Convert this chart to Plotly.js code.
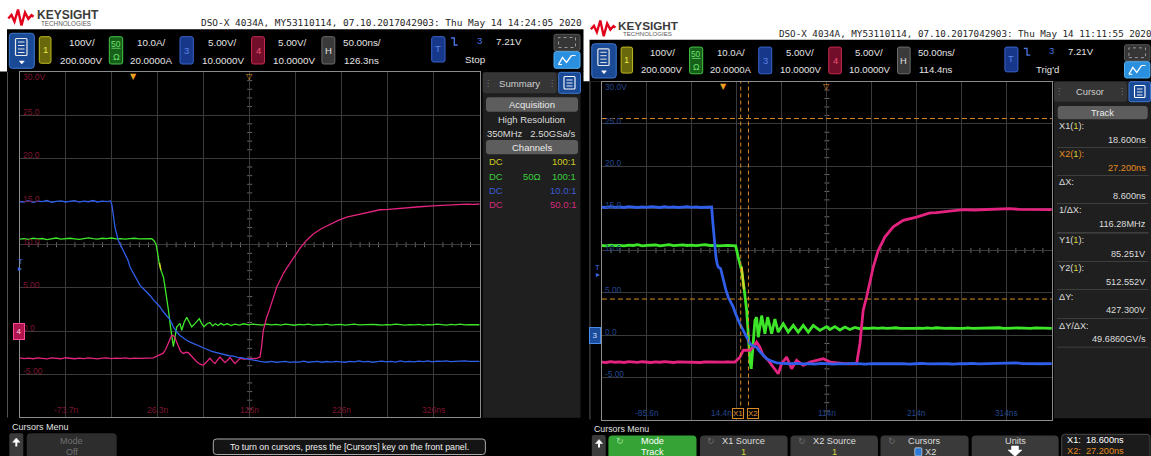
<!DOCTYPE html>
<html><head><meta charset="utf-8">
<script src="https://cdn.plot.ly/plotly-3.0.1.min.js"></script>
<style>html,body{margin:0;padding:0;background:#fff;overflow:hidden}#chart{width:1151px;height:456px}</style>
</head><body><div id="chart"></div>
<script>
// ================= DATA =================
// Screen grid: 10 div x 8 div, values below are in grid volts (ch3/ch4 scale: 5 V/div, offset 10 V)
const voltTicks  = [30, 25, 20, 15, 10, 5, 0, -5];
const voltLabels = ['30.0V', '25.0', '20.0', '15.0', '10.0', '5.00', '0.0', '-5.00'];

// Capture A (Thu May 14 14:24:05 2020) - time in ns
const capA_range = [-123.7, 376.3];
const capA_delay = 126.3;
const capA_timeTicks  = [-73.7, 26.3, 126.3, 226.3, 326.3];
const capA_timeLabels = ['-73.7n', '26.3n', '126n', '226n', '326ns'];
const capA_ch3 = [[-123.7,15.0],[-119,14.95],[-114,15.1],[-109,14.9],[-104,15.05],[-99,15.0],[-94,15.12],[-89,14.92],[-84,15.03],[-79,15.08],[-74,14.95],[-69,15.0],[-64,15.1],[-59,14.93],[-54,15.05],[-49,14.98],[-44,15.12],[-39,14.95],[-34,15.05],[-29,15.0],[-25,15.08],
 [-23.5,14.6],[-22,13.3],[-20.1,12.0],[-16.5,10.5],[-12.8,9.7],[-9.2,8.8],[-6,8.2],[-3.7,7.4],[-1,6.9],[1.9,6.3],[4.5,5.9],[7.1,5.3],[10,5.0],[12.8,4.7],[15.5,4.4],[18.2,4.1],[21,3.7],[23.7,3.4],[26,3.1],[28.8,2.8],[32,2.3],[36.1,1.8],[39.7,1.3],[43.3,0.5],[47,-0.1],[50.5,-0.5],[54,-0.8],[57.8,-1.05],[61,-1.25],[65,-1.45],[70,-1.7],[75,-1.95],[79.6,-2.1],[85,-2.35],[90,-2.5],[94,-2.6],[99,-2.7],[104,-2.85],[108.5,-2.9],[113,-3.05],[118,-3.1],[122,-3.2],[126.6,-3.3],[132,-3.4],[137.5,-3.5],[141,-3.55],[144.8,-3.6],
 [150,-3.5],[155,-3.6],[160,-3.55],[165,-3.5],[170,-3.62],[175,-3.55],[180,-3.58],[185,-3.48],[190,-3.6],[195,-3.55],[200,-3.5],[205,-3.6],[210,-3.52],[215,-3.58],[220,-3.5],[225,-3.55],[230,-3.6],[235,-3.5],[240,-3.55],[245,-3.45],[250,-3.55],[255,-3.5],[260,-3.6],[265,-3.52],[270,-3.48],[275,-3.55],[280,-3.5],[285,-3.58],[290,-3.45],[295,-3.55],[300,-3.5],[305,-3.55],[310,-3.48],[315,-3.52],[320,-3.45],[325,-3.55],[330,-3.48],[335,-3.5],[340,-3.45],[345,-3.52],[350,-3.48],[355,-3.5],[360,-3.45],[365,-3.5],[370,-3.48],[376.3,-3.5]];
const capA_ch2 = [[-123.7,10.65],[-119,10.7],[-114,10.62],[-109,10.75],[-104,10.68],[-99,10.72],[-94,10.6],[-89,10.7],[-84,10.78],[-79,10.65],[-74,10.7],[-69,10.75],[-64,10.68],[-59,10.62],[-54,10.72],[-49,10.8],[-44,10.7],[-39,10.65],[-34,10.75],[-29,10.7],[-24,10.78],[-19,10.68],[-14,10.72],[-9,10.65],[-4,10.7],[1,10.75],[6,10.68],[11,10.7],[16,10.72],[19.8,10.7],
 [22,10.5],[24.4,10.1],[26,9.2],[28,7.8],[30,7.0],[32.4,6.3],[34,5.3],[36.1,4.0],[38,2.4],[39.7,0.9],[41.5,-0.7],[43.3,-1.8],[45.1,-0.7],[47,0.5],[48.7,0.7],[50.5,0.9],[52.4,0.1],[55,1.0],[57.8,1.6],[60.5,1.0],[63.3,0.5],[67,0.9],[71.5,1.45],[74,0.9],[76.6,0.5],[80,0.85],[83,1.0],[86,0.6],[89,0.85],[92,0.65],[95,0.9],[98,0.7],[102,0.85],[106,0.65],[110,0.8],[115,0.7],[120,0.85],[125,0.72],[130,0.8],
 [135,0.75],[140,0.7],[145,0.82],[150,0.72],[155,0.78],[160,0.7],[165,0.8],[170,0.74],[175,0.68],[180,0.78],[185,0.72],[190,0.8],[195,0.7],[200,0.76],[205,0.72],[210,0.8],[215,0.7],[220,0.75],[225,0.78],[230,0.7],[235,0.74],[240,0.8],[245,0.72],[250,0.75],[255,0.7],[260,0.78],[265,0.74],[270,0.7],[275,0.76],[280,0.72],[285,0.8],[290,0.74],[295,0.7],[300,0.75],[305,0.72],[310,0.78],[315,0.7],[320,0.76],[325,0.72],[330,0.8],[335,0.74],[340,0.7],[345,0.78],[350,0.73],[355,0.8],[360,0.72],[365,0.76],[370,0.78],[376.3,0.74]];
const capA_ch4 = [[-123.7,-3.1],[-119,-3.18],[-114,-3.12],[-109,-3.2],[-104,-3.1],[-99,-3.15],[-94,-3.22],[-89,-3.1],[-84,-3.16],[-79,-3.2],[-74,-3.08],[-69,-3.15],[-64,-3.2],[-59,-3.12],[-54,-3.18],[-49,-3.1],[-44,-3.15],[-39,-3.22],[-34,-3.12],[-29,-3.1],[-24,-3.18],[-19,-3.12],[-14,-3.15],[-9,-3.1],[-4,-3.18],[1,-3.12],[6,-3.15],[11,-3.1],[16,-3.12],[21.5,-3.1],
 [25,-2.95],[28,-2.8],[32.4,-2.55],[35,-2.1],[37.8,-1.45],[40,-0.8],[41.5,-0.5],[43,-0.5],[45.1,-0.75],[47,-1.3],[48.7,-1.8],[51,-2.3],[54.1,-2.6],[57,-2.45],[59.6,-2.5],[63,-2.9],[66,-3.3],[68.7,-3.55],[72,-3.8],[75.9,-3.95],[79,-3.6],[83.1,-3.15],[86,-3.5],[88.6,-3.75],[91,-3.4],[94,-3.0],[97,-3.35],[99.5,-3.65],[102,-3.4],[104.9,-3.05],[107.5,-3.4],[110.4,-3.75],[113,-3.45],[115.8,-3.15],[120,-3.25],[125,-3.2],[129,-3.15],[133.9,-3.15],[137.5,-3.0],[139,-2.0],[141.1,0.1],[143,1.0],[144.8,1.6],[147.5,2.4],[150.2,3.2],[153,4.2],[155.7,5.1],[159,5.9],[162.8,6.65],[166,7.2],[170.1,7.9],[175,8.7],[181,9.6],[188,10.5],[195.4,11.25],[204,11.85],[213.6,12.4],[222,12.8],[231.7,13.2],[240,13.4],[249.8,13.65],[258,13.85],[267.9,14.05],[277,14.1],[286.1,14.2],[298,14.3],[311.4,14.4],[325,14.5],[340.4,14.6],[350,14.62],[362.2,14.7],[370,14.68],[376.3,14.72]];
const capA_ch1 = [[28.4,7.9],[29.0,7.5],[29.6,7.1]];

// Capture B (Thu May 14 11:11:55 2020) - time in ns
const capB_range = [-135.6, 364.4];
const capB_delay = 114.4;
const capB_timeTicks  = [-85.6, 14.4, 114.4, 214.4, 314.4];
const capB_timeLabels = ['-85.6n', '14.4n', '114n', '214n', '314ns'];
const capB_ch3 = [[-135.6,15.15],[-131,15.1],[-126,15.2],[-121,15.12],[-116,15.18],[-111,15.1],[-106,15.2],[-101,15.15],[-96,15.1],[-91,15.18],[-86,15.12],[-81,15.2],[-76,15.15],[-71,15.1],[-66,15.2],[-61,15.12],[-56,15.18],[-51,15.1],[-46,15.15],[-41,15.2],[-36,15.12],[-31,15.18],[-26,15.1],[-21,15.15],[-16,15.2],[-13.7,15.15],
 [-12.5,13.5],[-11.2,11.6],[-10,10.3],[-8.9,9.2],[-7.5,8.4],[-6.4,8.05],[-5,7.95],[-3.7,7.85],[-2.2,7.2],[-0.8,6.5],[2,5.4],[4.7,4.5],[7.5,3.9],[10.3,3.3],[13,2.5],[15.8,1.7],[18.6,1.1],[21.4,0.55],[24,0.0],[26.9,-0.65],[28.8,-1.0],[30.7,-1.2],[33.5,-1.35],[36.3,-1.45],[39,-1.85],[41.9,-2.2],[44.5,-2.5],[47.4,-2.8],[52,-3.05],[58.5,-3.3],[65,-3.35],[73.3,-3.4],
 [80,-3.35],[87,-3.42],[94,-3.38],[101,-3.45],[108,-3.35],[115,-3.4],[122,-3.45],[129,-3.38],[136,-3.42],[143,-3.35],[150,-3.4],[157,-3.45],[164,-3.38],[171,-3.4],[178,-3.35],[185,-3.42],[192,-3.4],[199,-3.38],[206,-3.45],[213,-3.4],[220,-3.35],[227,-3.42],[234,-3.4],[241,-3.38],[248,-3.4],[255,-3.45],[262,-3.38],[269,-3.4],[276,-3.35],[283,-3.42],[290,-3.4],[297,-3.38],[304,-3.42],[311,-3.36],[318,-3.4],[325,-3.3],[332,-3.38],[339,-3.4],[346,-3.35],[353,-3.4],[364.4,-3.38]];
const capB_ch2 = [[-135.6,10.6],[-131,10.55],[-126,10.65],[-121,10.58],[-116,10.62],[-111,10.55],[-106,10.65],[-101,10.6],[-96,10.7],[-91,10.55],[-86,10.62],[-81,10.6],[-76,10.66],[-71,10.55],[-66,10.62],[-61,10.7],[-56,10.58],[-51,10.62],[-46,10.68],[-41,10.6],[-36,10.65],[-31,10.58],[-26,10.62],[-21,10.7],[-16,10.6],[-11,10.62],[-6,10.55],[-1,10.6],[4,10.62],[9,10.58],[13,10.55],
 [15.8,9.24],[19.6,7.66],[22.2,5.68],[25.2,2.92],[27,0.16],[28.8,-3.0],[30.3,-4.0],[32.5,-0.25],[34.4,1.73],[36.3,2.1],[38.1,-0.25],[41.9,2.3],[45.5,0.16],[48.5,2.12],[53,0.16],[56.6,1.9],[60.3,0.35],[65.9,1.34],[71.4,0.35],[77,1.14],[82.5,0.35],[88.1,1.14],[93.7,0.35],[99.2,1.14],[106.6,0.55],[114.1,1.0],[117.7,0.65],[123.3,1.0],[128.8,0.6],[134.4,0.95],[139.9,0.65],[145.5,0.9],[151.1,0.75],
 [156,0.82],[161,0.78],[166,0.85],[171,0.8],[176,0.84],[181,0.78],[186,0.82],[191,0.86],[196,0.8],[201,0.78],[206,0.84],[211,0.8],[216,0.82],[221,0.78],[226,0.84],[231,0.8],[236,0.86],[241,0.8],[246,0.78],[251,0.82],[256,0.85],[261,0.8],[266,0.78],[271,0.84],[276,0.8],[281,0.82],[286,0.78],[291,0.84],[296,0.8],[301,0.82],[306,0.86],[311,0.8],[316,0.78],[321,0.82],[326,0.84],[331,0.8],[336,0.82],[341,0.78],[346,0.84],[351,0.8],[356,0.82],[364.4,0.8]];
const capB_ch4 = [[-135.6,-3.2],[-131,-3.25],[-126,-3.15],[-121,-3.22],[-116,-3.18],[-111,-3.25],[-106,-3.15],[-101,-3.2],[-96,-3.24],[-91,-3.16],[-86,-3.2],[-81,-3.25],[-76,-3.18],[-71,-3.22],[-66,-3.15],[-61,-3.2],[-56,-3.25],[-51,-3.18],[-46,-3.2],[-41,-3.15],[-36,-3.22],[-31,-3.2],[-26,-3.25],[-21,-3.18],[-16,-3.2],[-11,-3.15],[-6,-3.22],[-1,-3.2],[4,-3.18],[8,-3.22],[12.2,-3.2],
 [17.7,-2.62],[21.4,-1.82],[25.2,-1.8],[28.8,-1.82],[32.5,-1.43],[36.3,-0.84],[39.9,-1.43],[43.6,-2.4],[49.2,-3.0],[54.7,-3.8],[60.3,-4.58],[64.1,-3.4],[69.6,-2.6],[75.2,-4.0],[80.7,-3.0],[88.1,-3.6],[95.5,-3.2],[103,-3.0],[110.3,-2.8],[118,-3.2],[125.2,-3.3],[132,-3.35],[140,-3.4],[147.4,-3.4],
 [151.1,-1.03],[154.7,2.92],[158.5,4.5],[162.1,6.08],[165.9,8.05],[171.4,10.0],[178.8,11.6],[188.1,12.8],[199.2,13.58],[214.1,13.97],[228.9,14.45],[236,14.5],[243.6,14.6],[255,14.75],[265.8,14.84],[278,14.8],[291.9,14.84],[305,14.9],[317.7,14.97],[328,14.88],[339.9,14.84],[352,14.86],[364.4,14.84]];
const capB_ch1 = [[19.6,8.1],[20.4,7.3],[21.3,6.4],[22.2,5.4]];

// Cursor settings (capture B, source ch1: 100 V/div, offset 200 V)
const cursorX = [18.6, 27.2];          // ns
const cursorY = [85.251, 512.552];     // V on ch1
const ch1Scale = 100, ch1Offset = 200; // V/div, V
const trigTime = 0, trigLevel = 7.21;  // ns, V (ch3)
// Readout panel text, as shown by the scope
const readoutLabels = ['X1(1):', 'X2(1):', 'ΔX:', '1/ΔX:', 'Y1(1):', 'Y2(1):', 'ΔY:', 'ΔY/ΔX:'];
const readoutValues = ['18.600ns', '27.200ns', '8.600ns', '116.28MHz', '85.251V', '512.552V', '427.300V', '49.6860GV/s'];

// ================= HELPERS =================
const W=1151,H=456;
const FONT='"Liberation Sans", Arial, sans-serif';
const MONO='"DejaVu Sans Mono", "Liberation Mono", monospace';
const DJ='"DejaVu Sans", sans-serif';
const TXT='#e4e4e4';
const shapes=[], ann=[];
const I={ox:0,oy:0,s:1};
const trA={ox:0,oy:0,s:1};
const trB={ox:582.7,oy:11.2,s:0.978};
function T(t,x,y){return [t.ox+t.s*x,t.oy+t.s*y];}
const X=v=>+(v/W).toFixed(6), Y=v=>+(1-v/H).toFixed(6);
function rect(t,x0,y0,x1,y1,fill,line,lw,dash){
  const a=T(t,x0,y0),b=T(t,x1,y1);
  shapes.push({type:'rect',xref:'paper',yref:'paper',x0:X(a[0]),x1:X(b[0]),y0:Y(b[1]),y1:Y(a[1]),
    fillcolor:fill||'rgba(0,0,0,0)',line:{color:line||'rgba(0,0,0,0)',width:line?(lw||1):0,dash:dash||'solid'},layer:'below'});
}
function rr(t,x0,y0,x1,y1,r,fill,line,lw){
  const a=T(t,x0,y0),b=T(t,x1,y1),R=r*t.s;
  const l=a[0],tp=a[1],rt=b[0],bt=b[1];
  const p='M'+X(l+R)+','+Y(tp)+' L'+X(rt-R)+','+Y(tp)+' Q'+X(rt)+','+Y(tp)+' '+X(rt)+','+Y(tp+R)+
    ' L'+X(rt)+','+Y(bt-R)+' Q'+X(rt)+','+Y(bt)+' '+X(rt-R)+','+Y(bt)+' L'+X(l+R)+','+Y(bt)+
    ' Q'+X(l)+','+Y(bt)+' '+X(l)+','+Y(bt-R)+' L'+X(l)+','+Y(tp+R)+' Q'+X(l)+','+Y(tp)+' '+X(l+R)+','+Y(tp)+' Z';
  shapes.push({type:'path',xref:'paper',yref:'paper',path:p,fillcolor:fill||'rgba(0,0,0,0)',
    line:{color:line||'rgba(0,0,0,0)',width:line?(lw||1):0},layer:'below'});
}
function pl(t,pts,color,lw,closed,fill){
  let p=pts.map((q,i)=>{const a=T(t,q[0],q[1]);return (i?'L':'M')+X(a[0])+','+Y(a[1]);}).join(' ');
  if(closed)p+=' Z';
  shapes.push({type:'path',xref:'paper',yref:'paper',path:p,fillcolor:fill||'rgba(0,0,0,0)',
    line:{color:color,width:lw*t.s},layer:'below'});
}
function txt(t,x,y,s,size,color,anchor,fam,extra){
  const a=T(t,x,y);
  ann.push(Object.assign({xref:'paper',yref:'paper',x:X(a[0]),y:Y(a[1]),text:s,showarrow:false,
    xanchor:anchor||'center',yanchor:'middle',font:{family:fam||FONT,size:+(size*t.s).toFixed(2),color:color}},extra||{}));
}

// ================= SCOPE CHROME =================
function chrome(t,cfg){
  rect(t,0,71.5,583.5,480,'#000');
  rect(t,7,29.3,583.5,72,'#000');
  rect(t,7,72,7.8,417.5,'#6a6a6a');
  // logo
  pl(t,[[8.3,18.5],[11.5,15],[14.5,21.5],[18,9.5],[21.5,25.5],[25,12.5],[28.3,18.8],[31.5,15.2],[33.5,16.8]],'#e2001a',2.4);
  txt(t,34.5,14.6,'<b>KEYSIGHT</b>',12,'#3c3c3c','left');
  txt(t,39,23,'TECHNOLOGIES',6.3,'#5a5a5a','left');
  txt(t,198.7,22.6,cfg.header,9.45,'#1e1e1e','left',MONO);
  // toolbar
  rr(t,9.3,33.3,34.3,68.3,3,'#1a4a96','#3f78d0',1);
  rr(t,15.5,38.5,27,55.5,1,null,'#e8e8e8',1.2);
  [42,45.5,49,52.5].forEach(y=>pl(t,[[18,y],[24.5,y]],'#e8e8e8',1));
  pl(t,[[19.3,61],[24.3,61],[21.8,64]],'#ffffff',0.5,true,'#ffffff');
  rr(t,39.3,36.7,51,63.3,2,'#6a680c','#bdbb22',1); txt(t,45.2,50,'1',9.5,'#e8e640');
  txt(t,82,42.7,'100V/',9.8,TXT); txt(t,81.3,60,'200.000V',9.8,TXT);
  rr(t,109.3,36.7,122.7,64,2,'#17601a','#44c444',1); txt(t,116,43.5,'50',8.5,'#6ae06a'); pl(t,[[111.5,48.3],[120.5,48.3]],'#6ae06a',0.8); txt(t,116,57,'Ω',9,'#6ae06a');
  txt(t,152,42.7,'10.0A/',9.8,TXT); txt(t,151.3,60,'20.0000A',9.8,TXT);
  rr(t,180,36.7,193.3,64,2,'#17388a','#3a64cc',1); txt(t,186.6,50.5,'3',9.5,'#5a82e8');
  txt(t,222,42.7,'5.00V/',9.8,TXT); txt(t,223,60,'10.0000V',9.8,TXT);
  rr(t,251.6,36.7,264.5,64,2,'#730e2a','#c82a4e',1); txt(t,258,50.5,'4',9.5,'#ea5474');
  txt(t,292.5,42.7,'5.00V/',9.8,TXT); txt(t,293.5,60,'10.0000V',9.8,TXT);
  rr(t,321.9,36.7,334.8,64,2,'#3a3a3a','#6c6c6c',1); txt(t,328.3,50.5,'H',9.5,'#e0e0e0');
  txt(t,341,42.7,'50.00ns/',9.8,TXT,'left'); txt(t,342,60,cfg.delayText,9.8,TXT,'left');
  rr(t,431.7,36.7,445,62,2,'#17388a','#3a64cc',1); txt(t,438.3,49,'T',9.5,'#5a82e8');
  pl(t,[[451,38],[454.3,38],[454.3,45],[457.6,45]],'#4a78e8',1.3);
  txt(t,479.3,41,'3',9.5,'#4a78e8'); txt(t,509,41.5,'7.21V',9.8,TXT); txt(t,475.5,59.3,cfg.state,9.8,TXT);
  rr(t,554,34.3,580,51,2,'#363636','#565656',1); rect(t,558.5,37.5,575.5,47.5,null,'#9a9a9a',1,'dot');
  rr(t,554,51.7,580,68.3,2,'#2b8fe0','#56b0f0',1);
  pl(t,[[558.5,64.5],[562.5,57.5],[566.5,62.5],[571.5,55.5]],'#ffffff',1.3);
  pl(t,[[571.5,55.5],[575.5,55.5]],'#ffffff',1.1); pl(t,[[558.5,64.5],[562,64.5]],'#ffffff',1.1);
  // bottom menu
  txt(t,10,426.7,'Cursors Menu',9,'#e0e0e0','left');
  rr(t,9.3,433.3,23.3,480,2,'#3b3b3b');
  pl(t,[[16.3,438],[12.6,442.3],[20,442.3]],'#ffffff',0.5,true,'#ffffff'); rect(t,15.3,442,17.3,446.5,'#ffffff');
}

function summaryPanel(t){
  rect(t,482.7,72.3,580.5,417.7,'#1f1f1f');
  rr(t,482.7,72.3,556.7,93.3,3,'#353535');
  txt(t,519.7,83,'Summary',9.6,'#cfcfcf'); txt(t,488,83,'⋮',8,'#777','center',DJ); txt(t,552,83,'⋮',8,'#777','center',DJ);
  rr(t,558.7,72.3,580.5,93.3,2,'#1a4a96','#3f78d0',1);
  rr(t,564,76.5,575,89,1,null,'#ffffff',1.1);
  [80,83,86].forEach(y=>pl(t,[[566.5,y],[572.5,y]],'#ffffff',0.9));
  rr(t,486,97.3,578,111.7,3,'#5d5d5d'); txt(t,532,104.5,'Acquisition',9.5,'#ececec');
  txt(t,531.5,119,'High Resolution',9.5,'#dcdcdc');
  txt(t,531.5,133,'350MHz   2.50GSa/s',9.5,'#dcdcdc');
  rr(t,486,140,578,154.3,3,'#5d5d5d'); txt(t,532,147.2,'Channels',9.5,'#ececec');
  const rows=[['#cfcb22','100:1',''],['#3ccf3c','100:1','50Ω'],['#3c5cd6','10.0:1',''],['#d42a7c','50.0:1','']];
  const ys=[161.8,176.7,190.8,205];
  rows.forEach((r,i)=>{txt(t,486.5,ys[i],'DC',9.5,r[0],'left'); txt(t,577.5,ys[i],r[1],9.5,r[0],'right'); if(r[2])txt(t,532,ys[i],r[2],9.5,r[0]);});
  rr(t,26.7,433.3,116.7,480,4,'#2d2d2d');
  txt(t,71.7,440.7,'Mode',9,'#707070'); txt(t,71.7,451.5,'Off',9,'#707070');
  rr(t,213.3,439,485.4,454.5,3,'#141414','#a8a8a8',1);
  txt(t,349.3,446.9,'To turn on cursors, press the [Cursors] key on the front panel.',8.8,'#f0f0f0');
}

function cursorPanel(){
  const t=I;
  rect(t,1054,81.7,1151,418.3,'#1f1f1f');
  rr(t,1054,81.7,1127,101.7,3,'#353535');
  txt(t,1090.5,91.7,'Cursor',9.3,'#cfcfcf'); txt(t,1059,91.7,'⋮',8,'#777','center',DJ); txt(t,1122,91.7,'⋮',8,'#777','center',DJ);
  rr(t,1129,81.7,1150.5,101.7,2,'#1a4a96','#3f78d0',1);
  rr(t,1134.5,85.5,1145,97.5,1,null,'#ffffff',1.1);
  [89,92,95].forEach(y=>pl(t,[[1137,y],[1142.5,y]],'#ffffff',0.9));
  rr(t,1057.7,106,1147.7,119.3,3,'#5d5d5d'); txt(t,1102.7,112.7,'Track',9.3,'#ececec');
  const ly=[126,154.3,182.3,210,240,268.3,296.7,326], vy=[140,168.3,196,224.3,254,282.3,310,339.3], sy=[147.3,175.3,203.3,232.3,261,289.3,318.3,346.7];
  readoutLabels.forEach((lab,i)=>{
    const c = i===1 ? '#e48c22' : '#dcdcdc';
    const html = lab.replace('(1)','(<span style="color:#d8d43a">1</span>)');
    txt(t,1057.5,ly[i],html,9.2,c,'left');
    txt(t,1148,vy[i],readoutValues[i],9.2,c,'right');
    rect(t,1057,sy[i],1148.5,sy[i]+(i===3?1.3:0.8),'#4a4a4a');
  });
  // bottom softkeys
  const by=435.5;
  rr(t,592.7,by,605.5,480,2,'#3b3b3b');
  pl(t,[[599,439.5],[595.5,443.5],[602.5,443.5]],'#ffffff',0.5,true,'#ffffff'); rect(t,598,443.3,600,447.5,'#ffffff');
  rr(t,608.4,by,696.5,480,4,'#35a335'); txt(t,620,440.5,'↻',9,'#9ee09e','center',DJ);
  txt(t,652.5,440.5,'Mode',9.2,'#ffffff'); txt(t,652.5,452,'Track',9.2,'#ffffff');
  const keys=[[700,787.6,'X1 Source','1','#d8d43a'],[790.5,877.9,'X2 Source','1','#d8d43a'],[880.5,968.6,'Cursors','X2','#dcdcdc'],[971.7,1058.6,'Units','','']];
  keys.forEach((k,i)=>{
    rr(t,k[0],by,k[1],480,4,'#3a3a3a');
    if(i<3) txt(t,k[0]+11.5,440.5,'↻',9,'#6a6a6a','center',DJ);
    const c=(k[0]+k[1])/2;
    txt(t,c,440.5,k[2],9.2,'#dcdcdc');
    if(i===2){ rr(t,914.8,447.8,921.8,456,1,'#2a7ad8','#cccccc',0.8); txt(t,930.5,451.5,k[3],9.2,k[4]); }
    else if(k[3]) txt(t,c,452,k[3],9.2,k[4]);
  });
  pl(t,[[1011.5,446],[1018.5,446],[1018.5,450],[1022,450],[1015,456.5],[1008,450],[1011.5,450]],'#ffffff',0.5,true,'#ffffff');
  rr(t,1061.7,434.3,1150,480,3,'#1b1b1b','#4a4a4a',1);
  txt(t,1065,440,'X1:  '+readoutValues[0],9.2,'#ffffff','left');
  txt(t,1065,451,'X2:  '+readoutValues[1],9.2,'#e48c22','left');
}

chrome(trA,{header:'DSO-X 4034A, MY53110114, 07.10.2017042903: Thu May 14 14:24:05 2020',delayText:capA_delay.toFixed(1)+'ns',state:'Stop'});
summaryPanel(trA);
chrome(trB,{header:'DSO-X 4034A, MY53110114, 07.10.2017042903: Thu May 14 11:11:55 2020',delayText:capB_delay.toFixed(1)+'ns',state:"Trig'd"});
cursorPanel();

// ================= PLOT AREAS =================
function plotArea(t){const a=T(t,19.7,72),b=T(t,479.7,417.5);return {x:[X(a[0]),X(b[0])],y:[Y(b[1]),Y(a[1])]};}
const dA=plotArea(trA), dB=plotArea(trB);
function axisX(dom,range,anchor){return {domain:dom,range:range,tick0:range[0],dtick:50,showgrid:true,gridcolor:'#3a3a3a',gridwidth:1,
  zeroline:false,showticklabels:false,ticks:'',showline:true,mirror:true,linecolor:'#8c8c8c',linewidth:1,fixedrange:true,anchor:anchor};}
function axisY(dom,anchor){return {domain:dom,range:[-10,30],tick0:-10,dtick:5,showgrid:true,gridcolor:'#3a3a3a',gridwidth:1,
  zeroline:false,showticklabels:false,ticks:'',showline:true,mirror:true,linecolor:'#8c8c8c',linewidth:1,fixedrange:true,anchor:anchor};}

function decorate(xa,ya,range,delay,tTicks,tLabels,labColor,t,gnd,avoid){
  const xd=xa+' domain', yd=ya+' domain';
  for(let k=1;k<50;k++){const tt=range[0]+k*10; if(k%5===0)continue;
    shapes.push({type:'line',xref:xa,yref:ya,x0:tt,x1:tt,ysizemode:'pixel',yanchor:10,y0:-2.5,y1:2.5,line:{color:'#6a6a6a',width:1},layer:'below'});}
  for(let v=-9;v<30;v++){ if(v%5===0)continue;
    shapes.push({type:'line',xref:xa,yref:ya,y0:v,y1:v,xsizemode:'pixel',xanchor:delay,x0:-2.5,x1:2.5,line:{color:'#6a6a6a',width:1},layer:'below'});}
  tTicks.forEach((v,i)=>{
    // a time label sitting under the cursor tags is pushed left so both stay readable
    const near = avoid && Math.abs(v-avoid)<15;
    ann.push({xref:xa,yref:yd,x:v,y:0,yanchor:'bottom',xanchor:near?'right':'center',xshift:near?-3:0,text:tLabels[i],showarrow:false,font:{family:FONT,size:8.5*t.s,color:labColor}});
  });
  voltTicks.forEach((v,i)=>ann.push({xref:xd,yref:ya,x:0,xshift:1.5,y:v,yanchor:'middle',xanchor:'left',yshift:i===0?-5:3,text:voltLabels[i],showarrow:false,font:{family:FONT,size:8.5*t.s,color:labColor}}));
  ann.push({xref:xa,yref:yd,x:trigTime,y:1,yanchor:'top',yshift:2,text:'▼',showarrow:false,font:{family:DJ,size:8,color:'#f0a020'}});
  ann.push({xref:xa,yref:yd,x:delay,y:1,yanchor:'top',yshift:2,text:'▽',showarrow:false,font:{family:DJ,size:8,color:'#e09a28'}});
  const tx=T(t,15.5,0)[0];
  ann.push({xref:'paper',yref:ya,x:X(tx),y:trigLevel,yshift:7,text:'T',showarrow:false,font:{family:FONT,size:8*t.s,color:'#3e6ae0'}});
  ann.push({xref:'paper',yref:ya,x:X(tx),y:trigLevel,yshift:0,text:'▸',showarrow:false,font:{family:DJ,size:8*t.s,color:'#3e6ae0'}});
  const gx=T(t,13,0)[0];
  ann.push({xref:'paper',yref:ya,x:X(gx),y:0,text:gnd.txt,showarrow:false,width:8,height:13,borderpad:1,borderwidth:1,
    bgcolor:gnd.bg,bordercolor:gnd.bd,font:{family:FONT,size:8,color:gnd.fg}});
}
decorate('x','y',capA_range,capA_delay,capA_timeTicks,capA_timeLabels,'#7e1430',trA,{txt:'4',bg:'#b0154e',bd:'#ff4c96',fg:'#ffd0e2'},null);
decorate('x2','y2',capB_range,capB_delay,capB_timeTicks,capB_timeLabels,'#23468f',trB,{txt:'3',bg:'#1c4c9c',bd:'#4a8ae8',fg:'#d0e0ff'},cursorX[0]);

// cursors (capture B)
const toGrid = V => 10 + (V - ch1Offset) / ch1Scale * 5;
cursorX.forEach(v=>shapes.push({type:'line',xref:'x2',yref:'y2',x0:v,x1:v,y0:-10,y1:30,line:{color:'#d88a26',width:1,dash:'4px,3px'},layer:'above'}));
cursorY.forEach(v=>shapes.push({type:'line',xref:'x2',yref:'y2',x0:capB_range[0],x1:capB_range[1],y0:toGrid(v),y1:toGrid(v),line:{color:'#d88a26',width:1,dash:'5px,3px'},layer:'above'}));
['X1','X2'].forEach((s,i)=>ann.push({xref:'x2',yref:'y2 domain',x:cursorX[i],y:0,yanchor:'bottom',yshift:1,xanchor:i===0?'right':'left',xshift:i===0?3:-1,text:s,showarrow:false,
  bgcolor:'#000',bordercolor:'#d88a26',borderwidth:1,borderpad:0,font:{family:FONT,size:8,color:'#e09030'}}));

// ================= TRACES =================
const col={ch1:'#d8d42a',ch2:'#3ee62a',ch3:'#2f5ee8',ch4:'#e3237f'};
function trace(arr,color,w,xa,ya){return {type:'scatter',mode:'lines',x:arr.map(p=>p[0]),y:arr.map(p=>p[1]),
  line:{color:color,width:w},xaxis:xa,yaxis:ya,hoverinfo:'skip',showlegend:false};}
const data=[
  trace(capA_ch2,col.ch2,1.3,'x','y'), trace(capA_ch4,col.ch4,1.3,'x','y'), trace(capA_ch3,col.ch3,1.3,'x','y'), trace(capA_ch1,col.ch1,1.3,'x','y'),
  trace(capB_ch2,col.ch2,2.8,'x2','y2'), trace(capB_ch4,col.ch4,2.8,'x2','y2'), trace(capB_ch3,col.ch3,2.8,'x2','y2'), trace(capB_ch1,col.ch1,2.2,'x2','y2')
];

const layout={width:W,height:H,margin:{l:0,r:0,t:0,b:0,pad:0},paper_bgcolor:'#ffffff',plot_bgcolor:'rgba(0,0,0,0)',
  showlegend:false,hovermode:false,
  xaxis:axisX(dA.x,capA_range,'y'), yaxis:axisY(dA.y,'x'),
  xaxis2:axisX(dB.x,capB_range,'y2'), yaxis2:axisY(dB.y,'x2'),
  shapes:shapes, annotations:ann};
Plotly.newPlot('chart',data,layout,{staticPlot:true,displayModeBar:false});
</script></body></html>
